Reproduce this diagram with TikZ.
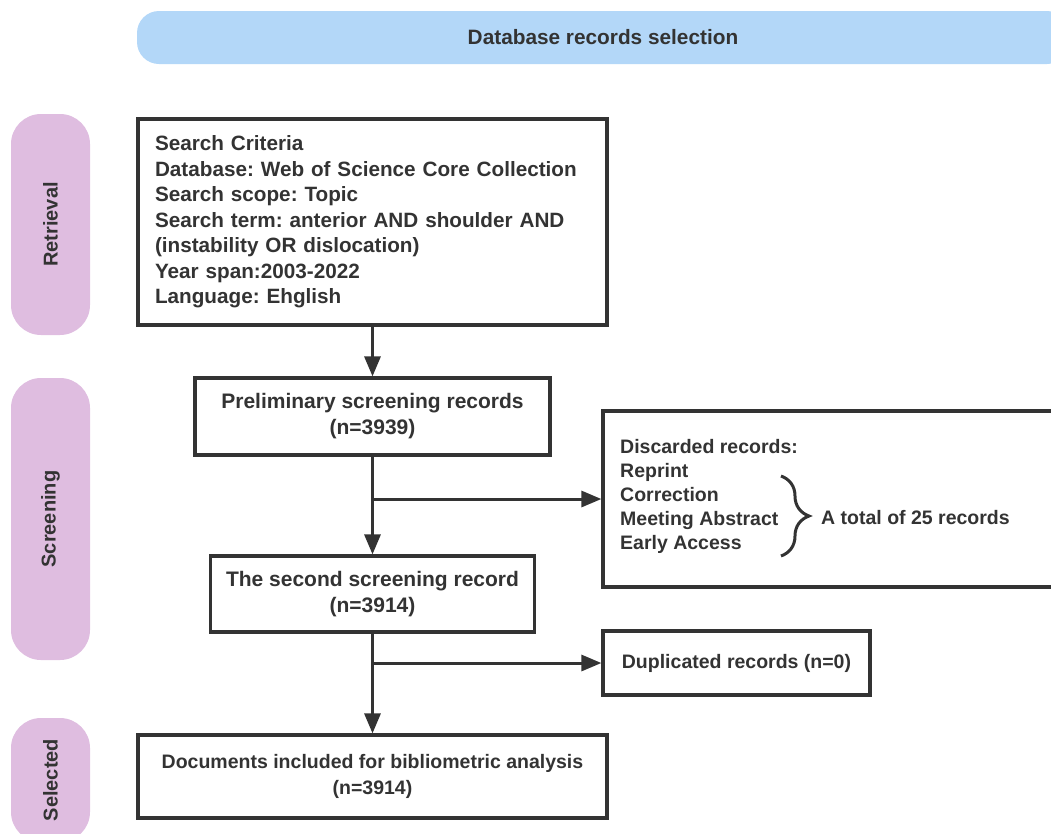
\documentclass[tikz,border=0pt]{standalone}
\usepackage{fontspec}
\setmainfont{Liberation Sans}
\frenchspacing
\usetikzlibrary{arrows.meta,decorations.pathreplacing}
\definecolor{inkgray}{HTML}{333333}
\definecolor{bannerblue}{HTML}{B3D7F8}
\definecolor{stagepink}{HTML}{DFBDE0}

\begin{document}
\begin{tikzpicture}[x=1pt,y=-1pt,
  box/.style={draw=inkgray,line width=3.2pt,fill=white,align=center,inner sep=0pt,text=inkgray,font=\fontsize{19.5}{25.5}\selectfont\bfseries},
  bigtext/.style={font=\fontsize{21}{26}\selectfont\bfseries},
  stage/.style={fill=stagepink,rounded corners=30pt,rotate=90,minimum height=79pt,text=inkgray,font=\fontsize{20}{22}\selectfont\bfseries},
  flow/.style={draw=inkgray,line width=3pt,-{Triangle[length=20pt,width=16pt]}},
  plain/.style={text=inkgray,font=\fontsize{19.5}{24}\selectfont\bfseries}]
\useasboundingbox (0,0) rectangle (1051,833);
\clip (0,0) rectangle (1051,833);

%%% The banner and the three stages on the left
\node[fill=bannerblue, rounded corners=22pt, minimum width=932pt, minimum height=53pt, text=inkgray, font=\fontsize{20.8}{22}\selectfont\bfseries] (title) at (603,37.5) {Database records selection};
\node[stage, minimum width=221pt] (retrieval) at (50.5,224.5) {Retrieval};
\node[stage, minimum width=282pt] (screening) at (50.5,519) {Screening};
\node[stage, minimum width=124pt] (selected) at (50.5,780) {Selected};

%%% The main column of records
\node[box, align=left, text width=435pt, inner xsep=17pt, minimum width=469pt, minimum height=206pt, font=\fontsize{20.7}{25.5}\selectfont\bfseries] (criteria) at (372.5,222) {Search Criteria\\
Database: Web of Science Core Collection\\
Search scope: Topic\\
Search term: anterior AND shoulder AND\\
(instability OR dislocation)\\
Year span:2003-2022\\
Language: Ehglish};
\node[box, bigtext, minimum width=355pt, minimum height=77pt] (prelim) at (372.5,416.5) {Preliminary screening records\\(n=3939)};
\node[box, bigtext, minimum width=324pt, minimum height=76pt] (second) at (372.5,594) {The second screening record\\(n=3914)};
\node[box, minimum width=469pt, minimum height=83pt] (included) at (372.5,776.5) {Documents included for bibliometric analysis\\(n=3914)};

%%% The records that are left out
\node[box, minimum width=520pt, minimum height=176pt] (discard) at (863,499) {};
\node[plain, anchor=north west, align=left, inner sep=0pt] (disclist) at (620,439) {Discarded records:\\
Reprint\\
Correction\\
Meeting Abstract\\
Early Access};
\node[plain, anchor=west, inner sep=0pt] (total) at (821,518) {A total of 25 records};
\draw[inkgray, line width=3pt, decorate, decoration={brace, amplitude=28pt}] (781,476) -- (781,556);
\node[box, minimum width=267pt, minimum height=64pt] (dup) at (736.5,663) {Duplicated records (n=0)};

%%% Connectors
\coordinate (b1) at (372.5,499);
\coordinate (b2) at (372.5,663);
\draw[flow] (criteria.south) -- (prelim.north);
\draw[flow] (prelim.south) -- (second.north);
\draw[flow] (b1) -- (discard.west);
\draw[flow] (second.south) -- (included.north);
\draw[flow] (b2) -- (dup.west);
\end{tikzpicture}
\end{document}
